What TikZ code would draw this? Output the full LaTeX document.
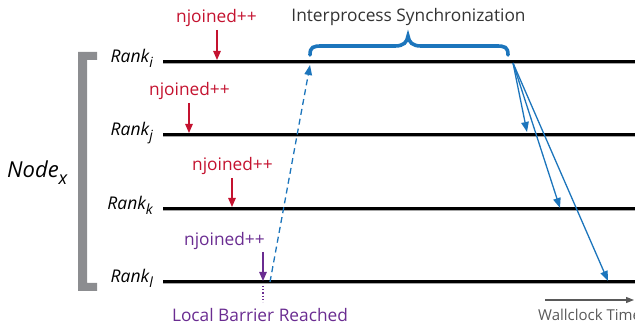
\documentclass[tikz,border=0pt]{standalone}
\usepackage{fontspec}
\setmainfont{Open Sans}
\usetikzlibrary{arrows.meta}
\definecolor{joinred}{HTML}{C4122F}
\definecolor{barpurple}{HTML}{6A2C91}
\definecolor{syncblue}{HTML}{1C75BC}
\definecolor{bracketgray}{HTML}{8C8D90}
\definecolor{textgray}{HTML}{333333}
\newcommand{\lowsub}[1]{\raisebox{-5pt}{\fontsize{14}{14}\selectfont #1}}
\tikzset{
  rankline/.style={line width=3pt, black},
  rankshadow/.style={line width=1.4pt, black!35},
  ranklabel/.style={anchor=base east, inner sep=0pt, font=\fontsize{17.5}{17.5}\selectfont\itshape},
  joinlabel/.style={inner sep=0pt, font=\fontsize{17.3}{17.3}\selectfont, text=joinred},
  joinarrow/.style={joinred, line width=1.2pt, -{Triangle[length=9pt,width=7.5pt]}},
  msgarrow/.style={syncblue, line width=1.3pt, -{Triangle[length=10pt,width=7.5pt]}},
}
\begin{document}
\begin{tikzpicture}[x=1pt,y=-1pt]
\useasboundingbox (0,0) rectangle (635,328);

% rank time lines
\foreach \n/\y in {i/62, j/135, k/209, l/282}{
  \coordinate (s\n) at (163,\y);
  \coordinate (e\n) at (640,\y);
  \draw[rankshadow] ([yshift=-1.8pt]s\n) -- ([yshift=-1.8pt]e\n);
  \draw[rankline] (s\n) -- (e\n);
}
\node[ranklabel] (li) at (153,63) {Rank\lowsub{i}};
\node[ranklabel] (lj) at (153,136) {Rank\lowsub{j}};
\node[ranklabel] (lk) at (153,210) {Rank\lowsub{k}};
\node[ranklabel] (ll) at (153,283) {Rank\lowsub{l}};

% node bracket
\fill[bracketgray] (78,52) -- (97,52) -- (97,60) -- (87,60) -- (87,283)
  -- (97,283) -- (97,291) -- (78,291) -- cycle;
\node[anchor=base west, inner sep=0pt, font=\fontsize{22}{22}\selectfont\itshape] (nx) at (7,178)
  {Node\raisebox{-7pt}{\fontsize{18}{18}\selectfont x}};

% njoined++ counters
\node[joinlabel] (j1) at (216.5,18) {njoined++};
\coordinate (j1t) at (217,60);
\draw[joinarrow] (217,30) -- (j1t);
\node[joinlabel] (j2) at (189.5,91) {njoined++};
\coordinate (j2t) at (189,133);
\draw[joinarrow] (189,103) -- (j2t);
\node[joinlabel] (j3) at (232.5,166) {njoined++};
\coordinate (j3t) at (232,207);
\draw[joinarrow] (232,178) -- (j3t);
\node[joinlabel, text=barpurple] (j4) at (224.5,241) {njoined++};
\coordinate (j4t) at (263,281);
\draw[joinarrow, barpurple] (263,252) -- (j4t);

% local barrier
\coordinate (lb) at (263,286);
\node[inner sep=0pt, font=\fontsize{17.3}{17.3}\selectfont, text=barpurple] (lbr) at (260,315) {Local Barrier Reached};
\draw[barpurple, line width=1.2pt, dotted] (lb) -- (263,302);

% dashed message to rank i
\coordinate (ds) at (270,282);
\coordinate (de) at (310,65);
\draw[syncblue, line width=1.3pt, dash pattern=on 6pt off 4pt, -{Triangle[length=10pt,width=7.5pt]}] (ds) -- (de);

% synchronization brace
\draw[syncblue, line width=3.6pt, line cap=round]
  (310,55) .. controls (310,47) and (313,46) .. (322,46) -- (395,46)
  .. controls (404,46) and (407,42) .. (408,36)
  .. controls (409,42) and (412,46) .. (421,46) -- (496,46)
  .. controls (505,46) and (508,47) .. (508,55);
\node[inner sep=0pt, font=\fontsize{17.3}{17.3}\selectfont, text=textgray] (sync) at (408.5,17) {Interprocess Synchronization};

% broadcast from rank i
\coordinate (bo) at (513,63);
\coordinate (bj) at (527,132);
\coordinate (bk) at (560,208);
\coordinate (bl) at (608,281);
\draw[msgarrow] (bo) -- (bj);
\draw[msgarrow] (bo) -- (bk);
\draw[msgarrow] (bo) -- (bl);

% wallclock axis
\coordinate (w0) at (545,300);
\coordinate (w1) at (634,300);
\draw[black!65, line width=1.2pt, -{Triangle[length=8pt,width=6pt]}] (w0) -- (w1);
\node[anchor=base west, inner sep=0pt, font=\fontsize{15}{15}\selectfont, text=black!65] (wt) at (538,321) {Wallclock Time};
\end{tikzpicture}
\end{document}
